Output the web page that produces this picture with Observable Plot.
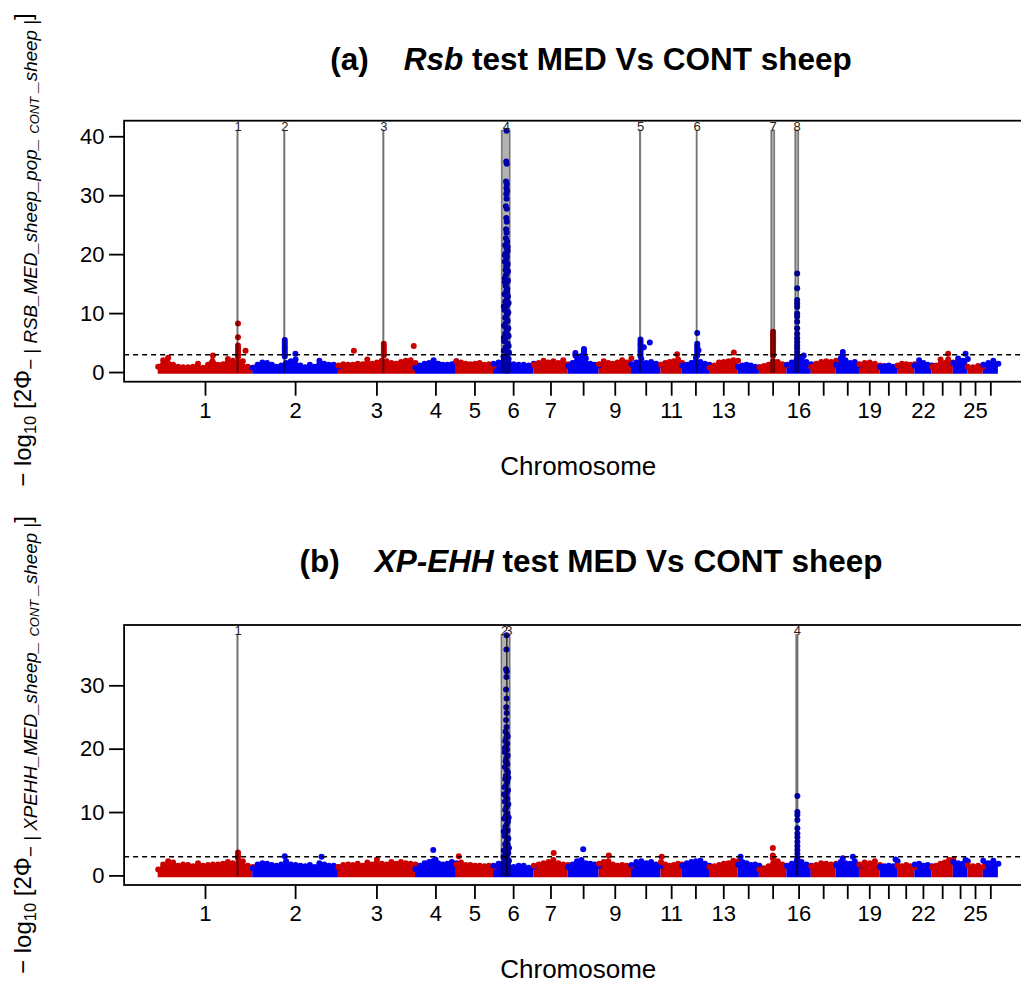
<!DOCTYPE html>
<html><head><meta charset="utf-8">
<script src="https://cdn.jsdelivr.net/npm/d3@7"></script>
<script src="https://cdn.jsdelivr.net/npm/@observablehq/plot@0.6"></script>
<style>
body{margin:0;background:#fff;}
#wrap{position:relative;width:1021px;height:985px;overflow:hidden;font-family:"Liberation Sans",Arial,Helvetica,sans-serif;color:#000;}
.panel{position:absolute;left:0;}
.title{position:absolute;left:591px;transform:translateX(-50%);white-space:pre;font-weight:bold;font-size:31.5px;line-height:31.5px;}
.ylab{position:absolute;white-space:pre;font-size:24px;line-height:28px;transform:translate(-50%,-50%) rotate(-90deg);}
.s1{font-size:16.5px;vertical-align:-5px;}
.s{font-size:18.8px;vertical-align:-6px;}
.ss{font-size:13px;vertical-align:-2px;}
</style></head><body>
<div id="wrap">
<div class="panel" id="pa" style="top:0"></div>
<div class="panel" id="pb" style="top:490px"></div>
<div class="title" style="top:44px">(a)    <i>Rsb</i> test MED Vs CONT sheep</div>
<div class="title" style="top:546px">(b)    <i>XP-EHH</i> test MED Vs CONT sheep</div>
<div class="ylab" style="left:29px;top:250px">− log<span class="s1">10</span> [2Φ<span class="s">− | <i>RSB_MED_sheep_pop_</i> <span class="ss"><i>CONT</i></span> <i>_sheep</i> |</span>]</div>
<div class="ylab" style="left:29px;top:745px">− log<span class="s1">10</span> [2Φ<span class="s">− | <i>XPEHH_MED_sheep_</i> <span class="ss"><i>CONT</i></span> <i>_sheep</i> |</span>]</div>
</div>
<script>
// ---- data ----
const chromosomes = [1,2,3,4,5,6,7,8,9,10,11,12,13,14,15,16,17,18,19,20,21,22,23,24,25,26];
const chrLengths = [275,249,224,119,108,117,100,90,94,86,62,79,83,62,80,71,72,68,60,51,50,50,62,42,45,44];
const tickLabels = ["1","2","3","4","5","6","7","","9","","11","","13","","","16","","","19","","","22","","","25",""];
const chrColors = ["#CD0000","#0000EE"];

// background band heights (evenly spaced along each chromosome)
const bandA = [
 [1.0,2.1,2.5,1.3,1.0,0.9,0.9,1.0,1.5,0.8,1.3,2.9,1.3,1.4,2.3,2.0,1.8,1.9,1.0,0.8],
 [0.8,1.3,1.7,1.6,1.3,1.0,1.2,1.6,1.9,2.2,1.2,0.9,1.3,1.0,2.0,1.5,1.3,1.3,1.0],
 [1.2,1.4,1.3,1.3,1.5,1.4,2.2,1.5,1.7,2.0,1.9,1.6,1.5,1.8,2.0,2.1,1.6],
 [0.8,1.2,1.5,1.6,2.1,1.5,1.3,1.3,1.4,1.9],
 [1.9,1.7,1.5,1.4,1.5,1.6,1.3,1.4,1.1],
 [1.5,1.7,1.9,1.6,1.4,1.3,1.3,1.2,1.5],
 [1.3,1.6,2.0,1.7,1.9,1.6,2.1,1.4],
 [1.1,1.6,2.6,2.8,2.4,1.5,1.3,1.2],
 [1.4,1.9,1.6,1.5,1.7,2.1,1.7,2.4],
 [1.4,1.7,2.3,1.6,1.8,1.5,1.3],
 [1.3,1.6,1.8,1.9,2.2,1.6],
 [1.2,1.3,1.6,2.5,1.8,1.5,1.3],
 [0.8,1.2,1.7,1.8,1.9,2.1,2.0],
 [1.0,1.2,1.3,1.2,1.0,0.9],
 [0.9,1.1,1.3,1.9,1.8,1.4,1.2],
 [1.3,1.7,2.2,2.5,1.8,1.4],
 [1.0,1.5,1.8,1.9,1.8,2.0],
 [1.3,2.4,2.1,1.6,1.8,1.3],
 [1.4,1.6,1.7,1.5,1.2],
 [1.0,1.1,1.2,1.0,1.1],
 [1.2,1.5,1.4,1.3,1.4],
 [1.2,2.1,1.6,1.3,1.2],
 [1.0,1.2,1.5,1.6,1.4,1.7],
 [1.6,2.4,2.0,2.3],
 [1.0,0.9,1.1,1.0],
 [1.3,1.6,2.0,1.5]
];
const bandB = [
 [1.0,1.8,2.3,2.1,1.6,1.8,1.7,1.5,2.0,1.6,1.7,1.8,1.8,1.9,2.2,2.0,2.0,2.3,1.6,1.4],
 [1.2,1.8,2.0,1.9,1.7,1.6,1.8,2.3,1.8,1.7,1.6,1.5,1.7,1.4,2.0,1.8,1.6,1.6,1.4],
 [1.4,1.7,1.8,1.7,1.9,1.6,2.1,1.8,2.6,1.9,1.8,2.2,1.9,2.2,2.0,1.9,1.8],
 [1.1,1.6,2.0,2.2,2.4,2.0,1.8,1.9,2.2,2.0],
 [1.8,2.1,1.7,1.7,1.6,1.6,1.5,1.6,1.4],
 [1.6,1.9,2.0,1.5,1.4,1.6,1.6,1.3,1.4],
 [1.6,1.8,2.0,2.2,2.5,2.0,1.8,1.7],
 [1.4,1.8,2.3,2.5,2.0,1.9,1.8,1.6],
 [1.9,2.2,2.3,1.8,1.6,1.7,1.6,1.5],
 [1.7,2.2,2.3,2.0,2.2,1.8,1.6],
 [2.2,1.8,1.6,1.7,1.9,1.8],
 [1.6,2.0,2.2,2.3,2.4,1.9,1.6],
 [1.4,1.5,1.7,1.9,2.0,2.4,2.3],
 [1.8,2.2,2.0,1.7,1.8,1.6],
 [1.0,1.2,1.5,2.0,2.3,1.8,1.6],
 [1.6,1.9,2.3,2.2,1.8,1.6],
 [1.5,1.7,2.0,1.9,1.8,1.9],
 [1.7,2.2,2.0,1.9,2.3,1.7],
 [1.8,2.1,2.0,2.3,1.7],
 [1.4,1.5,1.6,1.5,2.3],
 [1.6,1.5,1.7,1.5,1.4],
 [1.8,1.9,1.6,1.7,1.5],
 [1.4,1.6,1.9,2.1,2.5,2.6],
 [2.2,2.0,1.9,2.3],
 [1.7,1.5,1.6,1.4],
 [2.4,2.0,2.4,1.9]
];

// outlying SNPs: [chromosome, position (Mb), value]
const peaksA = [
 [1,232,8.3],[1,232,6.0],[1,232,4.6],[1,232,4.2],[1,232,3.8],[1,232,3.4],[1,232,3.0],[1,232,2.6],[1,254,3.7],
 [2,93,5.5],[2,93,5.1],[2,93,4.7],[2,93,4.3],[2,93,3.9],[2,93,3.5],[2,93,3.1],[2,93,2.7],[2,124,3.2],
 [3,132,4.9],[3,132,4.5],[3,132,4.1],[3,132,3.7],[3,132,3.3],[3,132,2.9],[3,45,3.7],[3,219,4.5],
 [6,38,41.0],[6,37,35.8],[6,38.5,35.4],[6,36.5,32.4],[6,38.5,32.0],[6,37.5,31.3],[6,39.5,30.8],[6,37,30.3],[6,38,29.5],[6,36,28.2],[6,38.5,27.8],[6,37,26.2],[6,38.5,25.6],[6,36.5,24.3],[6,38,23.7],[6,36,22.8],[6,39.5,22.2],
 [6,34,21.6],[6,38,21.1],[6,41,20.6],[6,35,20.2],[6,39,19.7],[6,37,19.2],[6,33,18.8],[6,41,18.4],[6,38,17.9],[6,35,17.4],[6,40,17.0],[6,36,16.5],[6,33,16.0],[6,42,15.6],[6,38,15.2],[6,35,14.7],[6,40,14.2],[6,37,13.8],[6,32,13.3],[6,42,12.9],[6,38,12.4],[6,34,12.0],[6,40,11.5],[6,36,11.0],[6,32,10.6],[6,43,10.2],[6,38,9.7],[6,34,9.3],[6,41,8.8],[6,36,8.4],[6,31,8.0],[6,43,7.5],[6,38,7.1],[6,34,6.6],[6,44,6.2],[6,36,5.8],[6,31,5.3],[6,41,4.9],[6,44,4.5],[6,37,4.1],[6,30,3.7],[6,42,3.3],[6,38,2.9],[6,32,2.5],[6,44,2.3],[6,40,2.0],[6,34,1.6],[6,30,1.2],[6,42,1.0],[6,37,0.6],
 [6,41,21.3],[6,33,19.9],[6,37,18.1],[6,42,17.2],[6,33,15.3],[6,39,13.6],[6,44,11.8],[6,30,11.2],[6,39,10.4],[6,33,7.8],[6,40,6.4],[6,30,5.9],[6,35,4.3],[6,45,3.4],[6,29,2.7],[6,36,1.9],[6,44,1.4],[6,33,0.4],[6,40,0.3],
 [8,21,3.3],[8,21,2.9],[8,46,4.0],[8,46,3.6],[8,46,3.2],
 [10,26.4,5.6],[10,26.4,5.2],[10,26.4,4.8],[10,26.4,4.4],[10,26.4,4.0],[10,26.4,3.6],[10,26.4,3.2],[10,26.4,2.8],[10,53.5,5.1],[10,36,4.3],
 [11,47,3.1],
 [12,43.3,6.7],[12,43.3,4.9],[12,43.3,4.5],[12,43.3,4.1],[12,43.3,3.7],[12,43.3,3.3],[12,43.3,2.9],[12,47,3.8],
 [13,70.8,3.4],
 [15,40,6.9],[15,40,6.5],[15,40,6.1],[15,40,5.7],[15,40,5.3],[15,40,4.9],[15,40,4.5],[15,40,4.1],[15,40,3.7],[15,40,3.3],[15,40,2.9],
 [16,30,16.8],[16,30,14.3],[16,30,12.3],[16,30,11.7],[16,30,11.1],[16,30,10.0],[16,30,9.5],[16,30,8.6],[16,30,7.5],[16,30,6.6],[16,30,5.8],[16,30,5.2],[16,30,4.6],[16,30,4.1],[16,30,3.5],[16,30,2.9],[16,49,2.9],[16,45,2.6],
 [18,19.7,3.5],[18,19.7,2.9],
 [23,24.8,2.2],[23,47,3.2],[23,47,2.2],
 [24,35.5,3.2]
];
const peaksB = [
 [1,232,3.7],[1,232,3.2],[1,232,2.8],
 [2,93,3.1],[2,200,3.0],
 [4,51.7,4.1],[4,58.3,2.6],
 [5,7,3.1],
 [6,38,38.0],[6,37.5,35.75],[6,36.5,32.6],[6,38.5,32.3],[6,37.5,31.4],[6,36.5,29.4],[6,38,28.0],[6,37,26.6],[6,38.5,25.7],[6,36.5,24.6],[6,38,23.5],
 [6,35,22.8],[6,39,22.3],[6,37,21.8],[6,34,21.3],[6,40,20.9],[6,36,20.4],[6,39,19.9],[6,33,19.5],[6,41,19.0],[6,37,18.6],[6,35,18.1],[6,40,17.6],[6,33,17.2],[6,38,16.7],[6,42,16.3],[6,36,15.8],[6,34,15.3],[6,40,14.9],[6,37,14.4],[6,32,14.0],[6,42,13.5],[6,38,13.1],[6,35,12.6],[6,40,12.2],[6,33,11.7],[6,43,11.3],[6,37,10.8],[6,34,10.4],[6,40,9.9],[6,36,9.5],[6,31,9.0],[6,42,8.6],[6,38,8.1],[6,34,7.7],[6,41,7.2],[6,36,6.8],[6,32,6.3],[6,43,5.9],[6,38,5.4],[6,34,5.0],[6,41,4.9],[6,37,4.5],[6,30,4.0],[6,43,3.6],[6,39,3.2],[6,33,2.7],[6,45,2.4],[6,36,2.1],[6,30,1.6],[6,41,1.3],[6,38,0.8],[6,33,0.4],
 [6,41,22.0],[6,33,20.2],[6,38,17.9],[6,43,15.5],[6,31,12.9],[6,39,11.0],[6,44,9.2],[6,30,7.0],[6,39,6.0],[6,45,4.4],[6,35,3.4],[6,29,3.0],[6,42,1.9],[6,36,0.5],
 [7,58,3.6],
 [8,43.8,4.2],
 [9,28.3,3.2],
 [11,2,3.0],
 [14,7.3,3.0],
 [15,39.2,4.4],[15,39.2,3.2],[15,39.2,2.8],
 [16,30.5,12.6],[16,30.5,10.1],[16,30.5,9.6],[16,30.5,8.8],[16,30.5,7.5],[16,30.5,6.7],[16,30.5,6.1],[16,30.5,5.4],[16,30.5,4.7],[16,30.5,4.1],[16,30.5,3.5],[16,30.5,2.8],
 [18,48.8,3.0],[18,19.7,2.8],
 [20,45,2.6],
 [24,35.5,2.5]
];

// candidate regions: [chromosome, start (Mb), end (Mb)]
const regionsA = [[1,231,233],[2,92,94],[3,131,133],[6,25,49],[10,25.5,27.5],[12,42.5,44],[15,35.5,45],[16,25.2,34.8]];
const regionsB = [[1,231,233],[6,24,40],[6,40,49],[16,28,33]];
const yTicksA = [0,10,20,30,40];
const yTicksB = [0,10,20,30];
const threshold = 3;

// ---- layout helpers ----
const offsets = [];
{ let c = 0; for (const L of chrLengths) { offsets.push(c); c += L; } }
const total = offsets[offsets.length-1] + chrLengths[chrLengths.length-1];
const ext = total * 0.04;
const xDomain = [-ext, total + ext];
const mids = chromosomes.map((c,i) => offsets[i] + chrLengths[i]/2);
const labelOf = new Map(mids.map((m,i) => [m, tickLabels[i]]));
const colorOf = c => chrColors[(c-1) % 2];
const cum = (c,p) => offsets[c-1] + p;

function bandRows(band){
  const rows = [];
  band.forEach((vals, i) => {
    const c = chromosomes[i], n = vals.length;
    vals.forEach((v, j) => rows.push({chr: c, x: offsets[i] + chrLengths[i]*j/(n-1), v, color: colorOf(c)}));
  });
  return rows;
}
const peakRows = peaks => peaks.map(([c,p,v]) => ({chr: c, x: cum(c,p), v, color: colorOf(c)}));
const regionRows = (regs, ymax) => regs.map(([c,s,e],i) => ({x1: cum(c,s), x2: cum(c,e), xm: cum(c,(s+e)/2), ymax, label: String(i+1)}));

function panel({band, peaks, regions, yTicks, yDomain, ymax, height, marginTop, marginBottom}){
  const bRows = bandRows(band);
  return Plot.plot({
    width: 1021, height, marginTop, marginBottom, marginLeft: 124.1, marginRight: 0,
    style: {fontFamily: '"Liberation Sans", Arial, Helvetica, sans-serif', background: "white", color: "black"},
    x: {domain: xDomain, range: [124.1, 1031.5]},
    y: {domain: yDomain},
    color: {type: "identity"},
    marks: [
      Plot.areaY(bRows, {x: "x", y1: -0.3, y2: "v", z: "chr", fill: "color", curve: "linear"}),
      Plot.dot(bRows, {x: "x", y: "v", r: 3, fill: "color"}),
      Plot.dot(peakRows(peaks), {x: "x", y: "v", r: 3, fill: "color"}),
      Plot.rect(regionRows(regions, ymax), {x1: "x1", x2: "x2", y1: 0, y2: "ymax", fill: "black", fillOpacity: 0.3, stroke: "black", strokeOpacity: 0.45, strokeWidth: 1.5}),
      Plot.ruleY([threshold], {stroke: "black", strokeWidth: 1.5, strokeDasharray: "5,4"}),
      Plot.text(regionRows(regions, ymax), {x: "xm", y: "ymax", text: "label", lineAnchor: "bottom", fontSize: 13, fill: "#222"}),
      Plot.rect([0], {x1: () => xDomain[0], x2: () => xDomain[1], y1: () => yDomain[0], y2: () => yDomain[1], fill: "none", stroke: "black", strokeWidth: 1.8}),
      Plot.axisY(yTicks, {anchor: "left", tickSize: 15, tickPadding: 5, fontSize: 22, strokeWidth: 1.8, label: null}),
      Plot.axisX(mids, {anchor: "bottom", tickSize: 14, tickPadding: 6, fontSize: 22, strokeWidth: 1.8, label: null, tickFormat: d => labelOf.get(d)}),
      Plot.text([0], {x: () => (xDomain[0]+xDomain[1])/2, y: () => yDomain[0], dy: 84, text: () => "Chromosome", fontSize: 26, lineAnchor: "middle"})
    ]
  });
}

document.getElementById("pa").appendChild(panel({band: bandA, peaks: peaksA, regions: regionsA, yTicks: yTicksA, yDomain: [-1.64, 42.64], ymax: 41.0, height: 490, marginTop: 120.7, marginBottom: 108.3}));
document.getElementById("pb").appendChild(panel({band: bandB, peaks: peaksB, regions: regionsB, yTicks: yTicksB, yDomain: [-1.52, 39.52], ymax: 38.0, height: 495, marginTop: 135, marginBottom: 100}));
</script>
</body></html>
